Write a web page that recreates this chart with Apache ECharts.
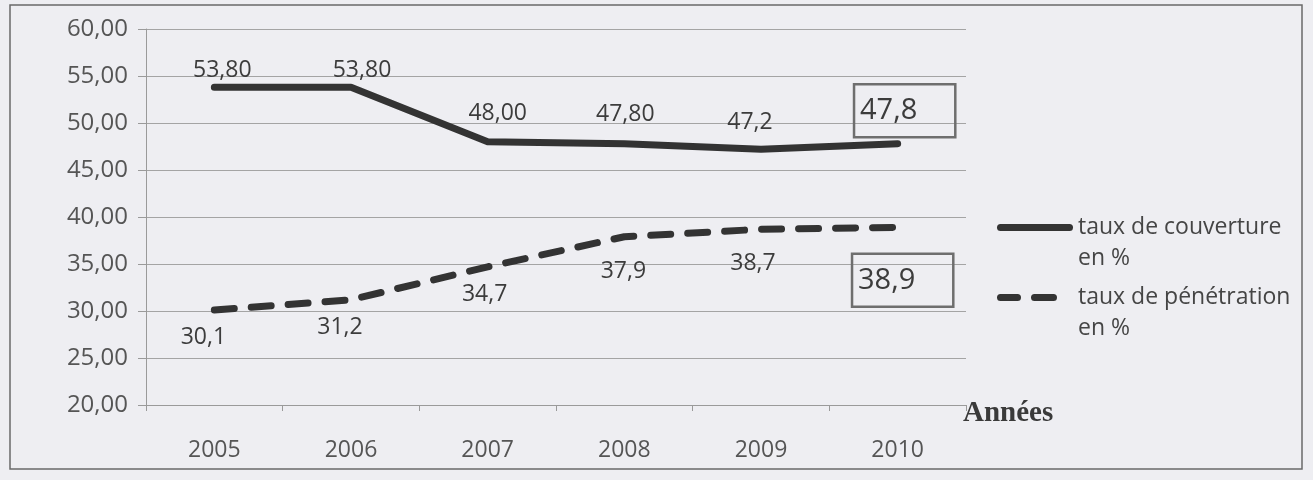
<!DOCTYPE html>
<html><head><meta charset="utf-8">
<script src="https://cdn.jsdelivr.net/npm/echarts@6/dist/echarts.min.js"></script>
<style>html,body{margin:0;padding:0;background:#eeeef2}#c{width:1313px;height:480px}</style>
</head><body><div id="c"></div>
<script>
const years = ['2005', '2006', '2007', '2008', '2009', '2010'];
const couverture = [53.8, 53.8, 48.0, 47.8, 47.2, 47.8];
const penetration = [30.1, 31.2, 34.7, 37.9, 38.7, 38.9];
const couvertureLabels = ['53,80', '53,80', '48,00', '47,80', '47,2', '47,8'];
const penetrationLabels = ['30,1', '31,2', '34,7', '37,9', '38,7', '38,9'];
const seriesNames = ['taux de couverture en %', 'taux de pénétration en %'];
const axisName = 'Années';

// label placement (kept apart from the data)
const couvertureOffsets = [[8, -17], [11, -17], [10, -28], [1, -29], [-11, -27], [7, -33]];
const penetrationOffsets = [[-11, 27], [-11, 28], [-3, 28], [-1, 35], [-8, 34], [5, 53]];
const boxedIndex = 5;

const FONT = '"Open Sans", "DejaVu Sans", sans-serif';
const INK = '#333333';
const TXT = '#454545';

const solidIcon = 'path://M3.5,0H72.5A3.5,3.5 0 0 1 72.5,7H3.5A3.5,3.5 0 0 1 3.5,0Z';
const dashIcon = 'path://M3.5,0H20.5A3.5,3.5 0 0 1 20.5,7H3.5A3.5,3.5 0 0 1 3.5,0Z' +
  'M37.5,0H56.5A3.5,3.5 0 0 1 56.5,7H37.5A3.5,3.5 0 0 1 37.5,0ZM76,3.5';

function buildData(values, labels, offsets) {
  return values.map((v, i) => {
    const boxed = i === boxedIndex;
    return {
      value: v,
      label: boxed ? {
        formatter: labels[i], offset: offsets[i], fontSize: 29, lineHeight: 34,
        borderColor: '#6e6e6e', borderWidth: 2.5, padding: [10, 38, 9, 6], color: '#3c3c3c'
      } : { formatter: labels[i], offset: offsets[i] }
    };
  });
}

const chart = echarts.init(document.getElementById('c'), null, { renderer: 'canvas' });
chart.setOption({
  backgroundColor: '#eeeef2',
  animation: false,
  textStyle: { fontFamily: FONT },
  graphic: [{
    type: 'rect', shape: { x: 10, y: 5, width: 1292, height: 464 },
    style: { fill: 'none', stroke: '#6a6a6a', lineWidth: 1.5 }, silent: true, z: 0
  }],
  grid: { left: 146, right: 347, top: 29, bottom: 75, containLabel: false },
  legend: {
    orient: 'vertical', left: 997, top: 181, padding: 0,
    itemWidth: 76, itemHeight: 7, itemGap: -23,
    data: [
      { name: seriesNames[0], icon: solidIcon, itemStyle: { color: INK, opacity: 1 } },
      { name: seriesNames[1], icon: dashIcon, itemStyle: { color: INK, opacity: 1 } }
    ],
    formatter: n => '\n' + n.replace(' en %', '\nen %'),
    textStyle: { fontFamily: FONT, fontSize: 23, lineHeight: 31, color: TXT }
  },
  xAxis: {
    type: 'category', data: years, boundaryGap: true,
    name: axisName, nameLocation: 'end', nameGap: -3,
    nameTextStyle: {
      fontFamily: '"Liberation Serif", "DejaVu Serif", serif', fontWeight: 'bold',
      fontSize: 29, lineHeight: 18, color: '#3a3a3a', align: 'left', verticalAlign: 'top'
    },
    axisLine: { show: true, lineStyle: { color: '#9a9a9a', width: 1 } },
    axisTick: { show: true, length: 6, inside: false, lineStyle: { color: '#9a9a9a' } },
    axisLabel: { fontFamily: FONT, fontSize: 23, color: '#555', margin: 34 },
    splitLine: { show: false }
  },
  yAxis: {
    type: 'value', min: 20, max: 60, interval: 5,
    axisLine: { show: true, lineStyle: { color: '#9a9a9a', width: 1 } },
    axisTick: { show: true, length: 8, lineStyle: { color: '#9a9a9a' } },
    axisLabel: { fontFamily: FONT, fontSize: 24, color: '#555', margin: 18,
      formatter: v => v.toFixed(2).replace('.', ',') },
    splitLine: { show: true, lineStyle: { color: '#a4a4a4', width: 1 } }
  },
  series: [
    {
      name: seriesNames[0], type: 'line', symbol: 'circle', symbolSize: 1, showSymbol: true,
      itemStyle: { color: 'transparent' },
      lineStyle: { color: INK, width: 7, cap: 'round', join: 'round' },
      label: { show: true, position: 'inside', fontFamily: FONT, fontSize: 23, color: '#3c3c3c' },
      data: buildData(couverture, couvertureLabels, couvertureOffsets)
    },
    {
      name: seriesNames[1], type: 'line', symbol: 'circle', symbolSize: 1, showSymbol: true,
      itemStyle: { color: 'transparent' },
      lineStyle: { color: INK, width: 7, type: [20, 17], cap: 'round', join: 'round' },
      label: { show: true, position: 'inside', fontFamily: FONT, fontSize: 23, color: '#3c3c3c' },
      data: buildData(penetration, penetrationLabels, penetrationOffsets)
    }
  ]
});
</script>
</body></html>
